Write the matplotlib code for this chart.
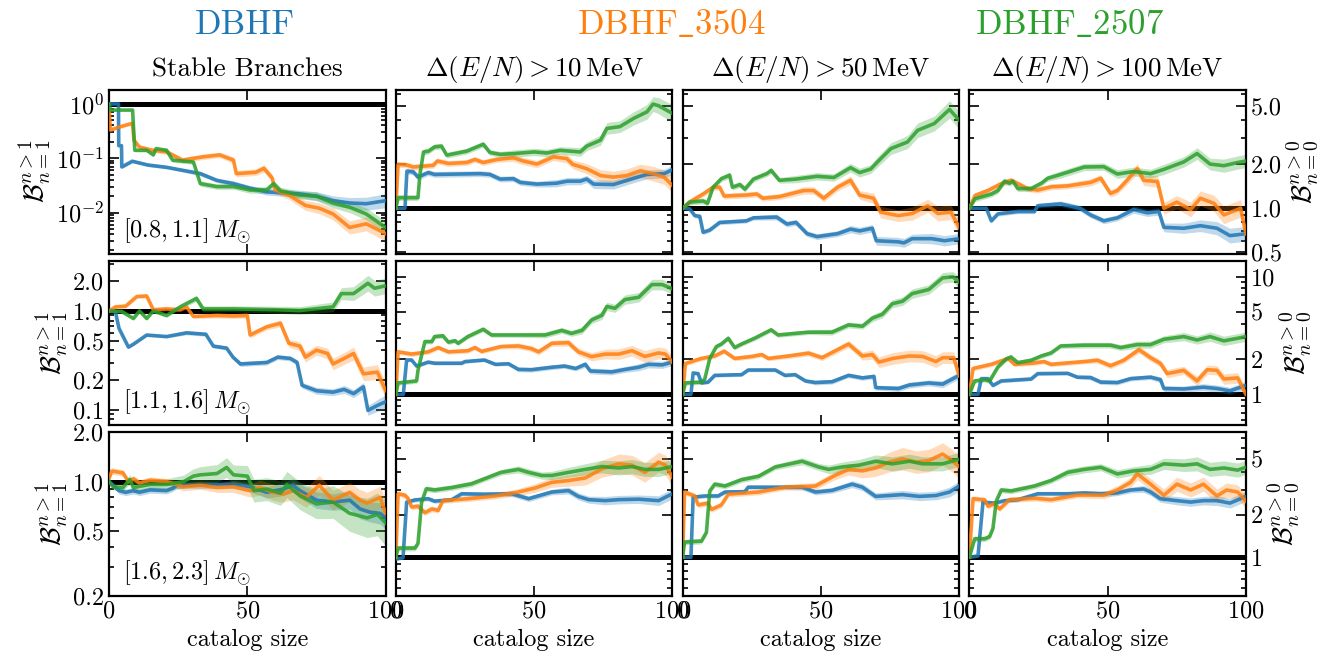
import numpy as np
import matplotlib
matplotlib.use("Agg")
import matplotlib.pyplot as plt
from matplotlib.ticker import FixedLocator, FormatStrFormatter, NullFormatter, LogLocator

plt.rcParams["font.family"] = "serif"
plt.rcParams["font.serif"] = ["cmr10"]
plt.rcParams["mathtext.fontset"] = "cm"
plt.rcParams["axes.formatter.use_mathtext"] = True
plt.rcParams["axes.unicode_minus"] = False

colors = ["#1f77b4", "#ff7f0e", "#2ca02c"]
models = ["DBHF", "DBHF_3504", "DBHF_2507"]
col_titles = ["Stable Branches", r"$\Delta(E/N) > 10\,\mathrm{MeV}$",
              r"$\Delta(E/N) > 50\,\mathrm{MeV}$", r"$\Delta(E/N) > 100\,\mathrm{MeV}$"]
mass_bins = [r"$[0.8, 1.1]\,M_{\odot}$", r"$[1.1, 1.6]\,M_{\odot}$", r"$[1.6, 2.3]\,M_{\odot}$"]

# ---- row 1 : [0.8, 1.1] Msun ----
r1c1_dbhf_x = [0, 3.4, 3.5, 4.5, 4.6, 8.4, 14, 20.8, 25, 33, 39, 45, 51, 57, 63, 69, 75, 81, 87, 93, 100]
r1c1_dbhf_y = [1.0, 1.0, 0.17, 0.17, 0.069, 0.088, 0.075, 0.068, 0.062, 0.052, 0.039, 0.034, 0.028, 0.024, 0.023, 0.022, 0.020, 0.0165, 0.015, 0.0145, 0.0165]
r1c1_dbhf_e = [0.01, 0.01, 0.02, 0.02, 0.03, 0.03, 0.03, 0.03, 0.03, 0.04, 0.04, 0.05, 0.05, 0.06, 0.06, 0.07, 0.08, 0.09, 0.1, 0.12, 0.13]
r1c1_3504_x = [0, 0.5, 4, 8.5, 9, 11, 15.6, 21, 26.5, 34, 40, 45, 46, 53, 56, 59, 60, 65, 71, 76, 81, 87, 93, 100]
r1c1_3504_y = [0.8, 0.33, 0.38, 0.44, 0.215, 0.16, 0.14, 0.13, 0.092, 0.106, 0.115, 0.092, 0.052, 0.055, 0.065, 0.043, 0.026, 0.021, 0.0135, 0.012, 0.0094, 0.0053, 0.0062, 0.0041]
r1c1_3504_e = [0.02, 0.03, 0.03, 0.03, 0.03, 0.04, 0.04, 0.04, 0.05, 0.05, 0.05, 0.06, 0.06, 0.06, 0.07, 0.07, 0.07, 0.08, 0.09, 0.1, 0.11, 0.12, 0.13, 0.14]
r1c1_2507_x = [0, 0.5, 8.5, 9.3, 13.6, 16, 17, 20.8, 23, 30.5, 33, 39, 45, 51, 57, 59.5, 62, 69, 75, 81, 87, 93, 100]
r1c1_2507_y = [1.0, 0.77, 0.77, 0.14, 0.14, 0.115, 0.15, 0.14, 0.092, 0.085, 0.034, 0.03, 0.03, 0.026, 0.026, 0.034, 0.025, 0.021, 0.02, 0.015, 0.0125, 0.0094, 0.0053]
r1c1_2507_e = [0.01, 0.02, 0.02, 0.03, 0.03, 0.03, 0.03, 0.04, 0.04, 0.04, 0.05, 0.05, 0.05, 0.06, 0.06, 0.06, 0.07, 0.07, 0.08, 0.09, 0.1, 0.11, 0.12]

r1c2_dbhf_x = [0, 3.3, 4, 6.3, 8, 11.7, 14, 30.4, 34, 37.7, 42.5, 45, 51, 58, 62, 66.7, 69, 71.5, 78.7, 86, 90.8, 97, 100]
r1c2_dbhf_y = [1.0, 1.0, 1.79, 1.77, 1.63, 1.75, 1.7, 1.72, 1.7, 1.58, 1.59, 1.5, 1.46, 1.48, 1.53, 1.53, 1.58, 1.46, 1.45, 1.6, 1.7, 1.72, 1.83]
r1c2_dbhf_e = [0.01, 0.01, 0.02, 0.02, 0.02, 0.02, 0.02, 0.02, 0.02, 0.02, 0.02, 0.02, 0.02, 0.025, 0.025, 0.025, 0.025, 0.03, 0.03, 0.03, 0.03, 0.03, 0.03]
r1c2_3504_x = [0, 0.8, 4, 6.3, 13.5, 15, 19, 25.6, 28.6, 31.6, 36.5, 42.5, 46, 51, 57, 61.8, 64, 69, 74, 78.7, 83.5, 88.4, 93, 97, 100]
r1c2_3504_y = [1.0, 1.99, 1.97, 1.91, 1.96, 2.1, 2.02, 2.05, 2.15, 2.05, 2.15, 2.21, 2.1, 2.0, 2.24, 2.18, 1.99, 1.86, 1.67, 1.63, 1.67, 1.8, 1.72, 1.63, 1.43]
r1c2_3504_e = [0.01, 0.02, 0.02, 0.02, 0.02, 0.02, 0.02, 0.02, 0.02, 0.02, 0.02, 0.025, 0.025, 0.025, 0.025, 0.03, 0.03, 0.035, 0.04, 0.04, 0.045, 0.045, 0.05, 0.05, 0.05]
r1c2_2507_x = [0, 0.8, 8, 8.7, 10, 11.8, 14, 16.5, 18.4, 25.6, 31.6, 34, 37.7, 43, 50, 54.6, 59.4, 66.7, 69, 74, 76.3, 81, 86, 90.8, 93, 95, 100]
r1c2_2507_y = [1.0, 1.18, 1.18, 1.7, 2.42, 2.45, 2.62, 2.65, 2.3, 2.45, 2.73, 2.4, 2.33, 2.36, 2.42, 2.38, 2.48, 2.42, 2.65, 2.91, 3.5, 3.6, 4.1, 4.54, 5.13, 5.0, 4.43]
r1c2_2507_e = [0.01, 0.02, 0.02, 0.02, 0.02, 0.02, 0.02, 0.02, 0.02, 0.02, 0.02, 0.02, 0.02, 0.025, 0.025, 0.025, 0.025, 0.03, 0.03, 0.035, 0.04, 0.04, 0.045, 0.05, 0.05, 0.055, 0.06]

r1c3_dbhf_x = [0, 2.5, 4.4, 6.2, 7.4, 9.8, 13.4, 23, 25.6, 34, 37.7, 41, 45, 48.6, 56, 60.7, 64, 68.6, 70, 78, 80, 83, 90, 94.7, 100]
r1c3_dbhf_y = [1.0, 0.99, 0.89, 0.88, 0.685, 0.71, 0.8, 0.82, 0.86, 0.87, 0.78, 0.8, 0.67, 0.64, 0.67, 0.72, 0.7, 0.73, 0.6, 0.59, 0.58, 0.62, 0.62, 0.6, 0.62]
r1c3_dbhf_e = [0.01, 0.01, 0.015, 0.015, 0.015, 0.015, 0.015, 0.015, 0.015, 0.02, 0.02, 0.02, 0.02, 0.02, 0.02, 0.025, 0.025, 0.025, 0.03, 0.03, 0.03, 0.03, 0.035, 0.035, 0.035]
r1c3_3504_x = [0, 2.5, 7.4, 11, 13.4, 15, 23, 26.8, 29, 35, 43.8, 47.4, 51, 56, 60.7, 64, 69, 71.6, 78, 83, 88.6, 92.3, 97, 100]
r1c3_3504_y = [1.0, 1.1, 1.25, 1.39, 1.39, 1.21, 1.23, 1.25, 1.17, 1.2, 1.32, 1.32, 1.17, 1.39, 1.55, 1.23, 1.17, 0.94, 0.89, 0.92, 1.04, 0.92, 0.94, 0.74]
r1c3_3504_e = [0.01, 0.02, 0.02, 0.02, 0.02, 0.02, 0.02, 0.02, 0.02, 0.02, 0.025, 0.025, 0.025, 0.025, 0.03, 0.03, 0.035, 0.04, 0.04, 0.045, 0.045, 0.05, 0.05, 0.05]
r1c3_2507_x = [0, 2.5, 7.4, 9, 11, 14, 17, 18, 20.7, 22.5, 25.6, 30.4, 32, 35, 41, 48.6, 54.7, 60.7, 64, 68, 71, 75.3, 81.3, 85, 91, 96.5, 100]
r1c3_2507_y = [1.0, 1.1, 1.12, 1.08, 1.39, 1.59, 1.68, 1.39, 1.45, 1.35, 1.58, 1.72, 1.81, 1.55, 1.58, 1.65, 1.62, 1.89, 1.75, 1.85, 2.12, 2.55, 2.83, 3.4, 3.78, 4.72, 3.98]
r1c3_2507_e = [0.01, 0.02, 0.02, 0.02, 0.02, 0.02, 0.02, 0.02, 0.02, 0.02, 0.02, 0.02, 0.02, 0.02, 0.025, 0.025, 0.025, 0.03, 0.03, 0.03, 0.035, 0.04, 0.045, 0.05, 0.05, 0.06, 0.06]

r1c4_dbhf_x = [0, 6.1, 7.9, 10.3, 17.5, 23.5, 24.7, 33, 40, 43.8, 48.6, 53.5, 59.4, 64.3, 68.5, 70.3, 77.5, 83.5, 89.5, 94.2, 100]
r1c4_dbhf_y = [1.0, 1.0, 0.82, 0.915, 0.95, 0.95, 1.04, 1.07, 1.0, 0.9, 0.82, 0.86, 0.98, 0.93, 0.95, 0.74, 0.73, 0.76, 0.73, 0.65, 0.67]
r1c4_dbhf_e = [0.01, 0.01, 0.015, 0.015, 0.015, 0.015, 0.015, 0.02, 0.02, 0.02, 0.02, 0.02, 0.025, 0.025, 0.025, 0.03, 0.035, 0.04, 0.045, 0.05, 0.05]
r1c4_3504_x = [0, 2, 6.7, 11.5, 15, 17.5, 21, 24.7, 29.5, 35.5, 43.8, 47.5, 51, 53.5, 57, 60.7, 63, 68, 70.3, 75, 80, 83.5, 88.4, 92, 97, 98, 100]
r1c4_3504_y = [1.0, 1.22, 1.32, 1.47, 1.55, 1.47, 1.36, 1.33, 1.4, 1.42, 1.5, 1.6, 1.26, 1.32, 1.55, 1.86, 1.55, 1.52, 1.0, 1.1, 0.98, 1.17, 1.08, 0.9, 0.98, 1.0, 0.67]
r1c4_3504_e = [0.01, 0.02, 0.02, 0.02, 0.02, 0.02, 0.02, 0.02, 0.02, 0.02, 0.025, 0.025, 0.025, 0.025, 0.03, 0.035, 0.035, 0.04, 0.04, 0.045, 0.05, 0.05, 0.055, 0.06, 0.06, 0.06, 0.06]
r1c4_2507_x = [0, 2, 8, 10.3, 12.7, 14.5, 15.7, 17.5, 22.3, 26, 28.3, 33, 41.5, 48.6, 53.5, 59.4, 65.5, 70.3, 77.5, 82.3, 87, 92, 97, 100]
r1c4_2507_y = [1.0, 1.16, 1.25, 1.32, 1.53, 1.48, 1.53, 1.36, 1.36, 1.48, 1.6, 1.7, 1.91, 1.92, 1.71, 1.78, 1.72, 1.84, 2.07, 2.36, 2.0, 1.95, 2.05, 2.1]
r1c4_2507_e = [0.01, 0.02, 0.02, 0.02, 0.02, 0.02, 0.02, 0.02, 0.02, 0.02, 0.02, 0.025, 0.025, 0.025, 0.03, 0.03, 0.03, 0.035, 0.035, 0.04, 0.04, 0.045, 0.045, 0.045]

# ---- row 2 : [1.1, 1.6] Msun ----
r2c1_dbhf_x = [0, 2.3, 3.6, 7, 8.8, 13.6, 20.8, 28, 35, 37.7, 42.5, 44.8, 47.5, 57, 61, 65.5, 68, 69.8, 75, 81, 85, 88.4, 92, 93.6, 97, 100]
r2c1_dbhf_y = [1.0, 0.98, 0.665, 0.43, 0.46, 0.57, 0.55, 0.6, 0.58, 0.44, 0.42, 0.34, 0.29, 0.3, 0.34, 0.33, 0.3, 0.176, 0.155, 0.15, 0.16, 0.145, 0.17, 0.098, 0.11, 0.12]
r2c1_dbhf_e = [0.01, 0.01, 0.015, 0.015, 0.015, 0.015, 0.015, 0.02, 0.02, 0.02, 0.02, 0.02, 0.025, 0.025, 0.025, 0.025, 0.03, 0.03, 0.035, 0.035, 0.04, 0.04, 0.045, 0.05, 0.06, 0.07]
r2c1_3504_x = [0, 2.3, 6, 10, 13.6, 16, 20.8, 25.7, 28, 30.5, 39, 45, 50, 51, 57, 62, 65, 69, 71, 75, 79, 81, 85, 88.4, 92, 97, 100]
r2c1_3504_y = [1.0, 1.1, 1.12, 1.4, 1.42, 1.03, 1.05, 1.03, 1.1, 0.88, 0.9, 0.89, 0.9, 0.57, 0.69, 0.75, 0.47, 0.44, 0.34, 0.4, 0.37, 0.29, 0.33, 0.37, 0.23, 0.24, 0.156]
r2c1_3504_e = [0.01, 0.02, 0.02, 0.02, 0.02, 0.02, 0.02, 0.02, 0.02, 0.02, 0.025, 0.025, 0.025, 0.03, 0.03, 0.035, 0.04, 0.045, 0.05, 0.05, 0.055, 0.06, 0.06, 0.065, 0.07, 0.075, 0.08]
r2c1_2507_x = [0, 4.5, 8.8, 11, 13.6, 16, 20.8, 25.7, 31.6, 34, 45, 60, 69, 81, 84, 88.4, 93.6, 96, 100]
r2c1_2507_y = [1.0, 0.99, 0.84, 1.0, 0.84, 1.0, 0.9, 1.1, 1.34, 1.05, 1.05, 1.03, 1.01, 1.1, 1.5, 1.5, 1.91, 1.7, 1.8]
r2c1_2507_e = [0.01, 0.02, 0.02, 0.02, 0.02, 0.02, 0.02, 0.025, 0.03, 0.03, 0.03, 0.035, 0.04, 0.05, 0.06, 0.07, 0.08, 0.08, 0.08]

r2c2_dbhf_x = [0, 2.7, 3.9, 5.7, 7.5, 11.7, 14, 23.8, 25, 32, 36, 40.7, 44.3, 49, 56.4, 61, 65, 68.5, 70.3, 78, 83, 87.8, 91.4, 96.3, 100]
r2c2_dbhf_y = [1.0, 1.0, 1.96, 1.96, 1.74, 1.88, 1.84, 1.84, 1.9, 1.96, 1.8, 1.82, 1.63, 1.62, 1.7, 1.74, 1.66, 1.8, 1.58, 1.55, 1.63, 1.7, 1.8, 1.78, 1.88]
r2c2_dbhf_e = [0.01, 0.01, 0.015, 0.015, 0.015, 0.015, 0.015, 0.015, 0.015, 0.015, 0.015, 0.015, 0.02, 0.02, 0.02, 0.02, 0.02, 0.025, 0.025, 0.025, 0.025, 0.03, 0.03, 0.03, 0.03]
r2c2_3504_x = [0, 0.8, 5.7, 11.7, 15.3, 19, 26, 28.6, 31, 38, 44.3, 49, 51.6, 56.4, 62.4, 66, 70.8, 75.7, 80.6, 85.4, 90, 95, 97.5, 100]
r2c2_3504_y = [1.0, 2.3, 2.2, 2.3, 2.5, 2.3, 2.35, 2.5, 2.32, 2.55, 2.58, 2.45, 2.3, 2.72, 2.75, 2.3, 2.09, 2.2, 2.2, 2.35, 2.1, 2.25, 2.2, 1.88]
r2c2_3504_e = [0.01, 0.02, 0.02, 0.02, 0.02, 0.02, 0.02, 0.02, 0.02, 0.02, 0.025, 0.025, 0.025, 0.025, 0.03, 0.03, 0.035, 0.04, 0.045, 0.045, 0.05, 0.05, 0.05, 0.05]
r2c2_2507_x = [0, 0.8, 7.5, 8, 10.5, 13, 14, 17, 19, 21.4, 22.5, 26, 31.6, 34.6, 44.3, 54, 60, 63.5, 67.3, 70.8, 74.5, 76.3, 79.2, 82.8, 87.8, 92.6, 96.3, 100]
r2c2_2507_y = [1.0, 1.25, 1.3, 1.6, 2.81, 2.81, 3.1, 3.15, 2.78, 2.86, 2.72, 3.1, 3.58, 3.2, 3.2, 3.2, 3.5, 3.3, 3.5, 4.3, 4.7, 5.6, 5.4, 6.4, 6.7, 8.6, 8.6, 7.9]
r2c2_2507_e = [0.01, 0.02, 0.02, 0.02, 0.02, 0.02, 0.02, 0.02, 0.02, 0.02, 0.02, 0.02, 0.02, 0.02, 0.02, 0.025, 0.025, 0.025, 0.03, 0.03, 0.035, 0.035, 0.035, 0.04, 0.04, 0.045, 0.045, 0.045]

r2c3_dbhf_x = [0, 3, 3.8, 5.6, 6.8, 9.2, 11.6, 21.3, 23.7, 33.5, 37, 40.7, 44.4, 48, 54, 60, 65, 69.2, 69.8, 78, 82, 89, 94, 100]
r2c3_dbhf_y = [1.0, 1.0, 1.52, 1.5, 1.25, 1.27, 1.45, 1.47, 1.61, 1.61, 1.45, 1.47, 1.3, 1.26, 1.28, 1.45, 1.38, 1.42, 1.14, 1.12, 1.2, 1.25, 1.22, 1.45]
r2c3_dbhf_e = [0.01, 0.01, 0.015, 0.015, 0.015, 0.015, 0.015, 0.015, 0.015, 0.015, 0.015, 0.015, 0.015, 0.02, 0.02, 0.02, 0.02, 0.02, 0.02, 0.025, 0.025, 0.025, 0.03, 0.03]
r2c3_3504_x = [0, 1, 6.8, 11.6, 15, 18.8, 25, 28.6, 31, 38.3, 45.5, 50.4, 60, 65, 68.6, 71, 76, 82, 86.8, 91.6, 94, 98, 100]
r2c3_3504_y = [1.0, 1.83, 2.02, 2.12, 2.33, 2.02, 2.1, 2.18, 2.02, 2.12, 2.24, 2.05, 2.68, 2.12, 2.18, 1.88, 2.02, 2.12, 2.1, 1.9, 2.05, 2.05, 1.44]
r2c3_3504_e = [0.01, 0.02, 0.02, 0.02, 0.02, 0.02, 0.02, 0.02, 0.02, 0.02, 0.025, 0.025, 0.03, 0.035, 0.04, 0.045, 0.05, 0.05, 0.05, 0.05, 0.05, 0.05, 0.05]
r2c3_2507_x = [0, 1, 6.8, 8, 9.8, 12.2, 14, 16.5, 18.8, 21.3, 26, 32, 34.5, 45.5, 54, 60, 65, 68.6, 72.2, 75.8, 79.5, 83, 89, 94, 97.7, 100]
r2c3_2507_y = [1.0, 1.25, 1.27, 1.35, 2.02, 2.55, 2.68, 3.0, 2.5, 2.68, 3.0, 3.54, 3.2, 3.38, 3.38, 3.9, 3.8, 4.45, 4.8, 5.9, 6.2, 7.2, 7.8, 9.8, 10.0, 9.0]
r2c3_2507_e = [0.01, 0.02, 0.02, 0.02, 0.02, 0.02, 0.02, 0.02, 0.02, 0.02, 0.02, 0.02, 0.02, 0.02, 0.025, 0.025, 0.025, 0.03, 0.03, 0.035, 0.035, 0.04, 0.04, 0.045, 0.045, 0.045]

r2c4_dbhf_x = [0, 3.1, 4.3, 6.7, 8.5, 11.5, 22.3, 24.7, 35.5, 39, 43.8, 47.5, 53.5, 58.3, 65.5, 69.1, 70.3, 77.5, 84.6, 89.5, 94.2, 100]
r2c4_dbhf_y = [1.0, 1.0, 1.36, 1.36, 1.19, 1.3, 1.35, 1.5, 1.51, 1.4, 1.39, 1.27, 1.26, 1.36, 1.4, 1.33, 1.12, 1.11, 1.15, 1.12, 1.07, 1.19]
r2c4_dbhf_e = [0.01, 0.01, 0.015, 0.015, 0.015, 0.015, 0.015, 0.015, 0.015, 0.015, 0.02, 0.02, 0.02, 0.02, 0.02, 0.025, 0.025, 0.025, 0.03, 0.03, 0.03, 0.035]
r2c4_3504_x = [0, 1.3, 7.9, 14, 16.3, 23.5, 27, 29.5, 35.5, 41.5, 46.3, 51, 55.8, 61.3, 65.5, 69.1, 71.5, 77.5, 82.3, 86, 89.5, 92, 97, 100]
r2c4_3504_y = [1.0, 1.66, 1.8, 2.02, 1.8, 1.85, 1.9, 1.8, 1.85, 1.9, 1.95, 1.75, 1.95, 2.4, 2.05, 1.83, 1.5, 1.6, 1.3, 1.62, 1.6, 1.35, 1.38, 1.0]
r2c4_3504_e = [0.01, 0.02, 0.02, 0.02, 0.02, 0.02, 0.02, 0.02, 0.02, 0.02, 0.025, 0.025, 0.025, 0.03, 0.03, 0.03, 0.035, 0.035, 0.04, 0.04, 0.04, 0.045, 0.045, 0.045]
r2c4_2507_x = [0, 1.9, 5.5, 7.3, 10.3, 13.3, 15, 17.5, 22.3, 26, 29.5, 33, 41.5, 51, 54.7, 60.7, 65.5, 70.3, 77.5, 82.3, 87, 92, 97, 100]
r2c4_2507_y = [1.0, 1.3, 1.33, 1.3, 1.71, 2.0, 2.08, 1.86, 1.95, 2.12, 2.25, 2.58, 2.62, 2.62, 2.5, 2.65, 2.65, 2.94, 3.1, 2.9, 3.1, 2.85, 3.0, 3.1]
r2c4_2507_e = [0.01, 0.02, 0.02, 0.02, 0.02, 0.02, 0.02, 0.02, 0.02, 0.02, 0.02, 0.02, 0.025, 0.025, 0.025, 0.03, 0.03, 0.03, 0.035, 0.035, 0.04, 0.04, 0.04, 0.04]

# ---- row 3 : [1.6, 2.3] Msun ----
r3c1_dbhf_x = [0, 3.6, 6, 8.8, 11, 14.8, 20.8, 23, 24.5, 33, 45, 51, 57, 63, 66.5, 69, 75, 81, 87, 90.8, 94.4, 98, 100]
r3c1_dbhf_y = [1.0, 0.88, 0.86, 0.88, 0.86, 0.89, 0.88, 0.91, 0.95, 0.95, 0.96, 0.93, 0.86, 0.9, 0.95, 0.88, 0.77, 0.75, 0.77, 0.68, 0.65, 0.64, 0.6]
r3c1_dbhf_e = [0.01, 0.02, 0.02, 0.02, 0.02, 0.02, 0.02, 0.02, 0.02, 0.02, 0.025, 0.03, 0.035, 0.04, 0.04, 0.045, 0.05, 0.05, 0.055, 0.06, 0.06, 0.065, 0.07]
r3c1_3504_x = [0, 1, 5, 7, 8.8, 11, 14.8, 20.8, 26.9, 33, 39, 45, 51, 54.6, 59.4, 63, 66.5, 71.3, 76, 81, 87, 90.8, 93.3, 98, 100]
r3c1_3504_y = [1.05, 1.16, 1.13, 1.0, 1.04, 0.98, 1.02, 1.0, 0.93, 0.95, 0.92, 0.93, 0.88, 0.92, 0.86, 0.84, 0.88, 0.8, 0.95, 0.77, 0.86, 0.77, 0.74, 0.8, 0.64]
r3c1_3504_e = [0.01, 0.02, 0.02, 0.02, 0.02, 0.02, 0.02, 0.02, 0.025, 0.025, 0.03, 0.035, 0.04, 0.045, 0.05, 0.05, 0.055, 0.06, 0.06, 0.06, 0.06, 0.065, 0.065, 0.07, 0.07]
r3c1_2507_x = [0, 1.5, 5, 7.5, 8.8, 14.8, 20.8, 27, 30.5, 33, 39, 42.5, 45, 50, 52.4, 57, 62, 64.3, 69, 75, 81, 87, 93.3, 97, 100]
r3c1_2507_y = [1.0, 0.93, 0.92, 1.03, 0.92, 0.96, 0.96, 1.0, 1.08, 1.1, 1.12, 1.22, 1.1, 1.08, 0.88, 0.9, 0.85, 0.96, 0.82, 0.73, 0.75, 0.64, 0.6, 0.63, 0.56]
r3c1_2507_e = [0.01, 0.02, 0.02, 0.03, 0.03, 0.03, 0.035, 0.04, 0.045, 0.05, 0.055, 0.06, 0.06, 0.065, 0.07, 0.07, 0.075, 0.08, 0.085, 0.09, 0.1, 0.11, 0.12, 0.13, 0.14]

r3c2_dbhf_x = [0, 2.6, 3.9, 6.9, 11.7, 14, 20.2, 23.8, 32, 41.9, 48, 56.4, 62.4, 66, 69.7, 75.7, 80.5, 87.8, 95, 100]
r3c2_dbhf_y = [0.97, 0.99, 2.46, 2.55, 2.6, 2.5, 2.56, 2.82, 2.8, 2.82, 2.6, 2.9, 2.97, 2.7, 2.56, 2.52, 2.56, 2.58, 2.52, 2.82]
r3c2_dbhf_e = [0.01, 0.01, 0.015, 0.015, 0.015, 0.015, 0.015, 0.015, 0.015, 0.02, 0.02, 0.02, 0.025, 0.025, 0.025, 0.03, 0.03, 0.03, 0.035, 0.035]
r3c2_3504_x = [0, 0.8, 3.3, 4.5, 5.7, 8, 10.5, 13, 15.3, 17, 26, 36, 44.3, 50.4, 56.4, 62.4, 68.5, 74.5, 80.6, 85.4, 90, 95, 97.5, 100]
r3c2_3504_y = [1.0, 2.82, 2.75, 2.6, 2.27, 2.3, 2.07, 2.2, 2.15, 2.52, 2.6, 2.72, 2.9, 3.1, 3.4, 3.5, 3.65, 4.24, 4.6, 4.5, 4.0, 4.73, 4.5, 3.7]
r3c2_3504_e = [0.01, 0.02, 0.02, 0.02, 0.02, 0.02, 0.02, 0.02, 0.02, 0.02, 0.02, 0.02, 0.025, 0.03, 0.035, 0.04, 0.05, 0.06, 0.07, 0.07, 0.07, 0.07, 0.07, 0.07]
r3c2_2507_x = [0, 0.8, 6.9, 8, 9.3, 11, 14, 20.2, 27.4, 32, 38, 44.3, 48, 52.8, 56.4, 62.4, 68.5, 74.5, 80.6, 85.4, 90, 95, 100]
r3c2_2507_y = [1.0, 1.16, 1.16, 1.25, 2.45, 3.06, 3.0, 3.12, 3.32, 3.6, 4.0, 4.2, 4.0, 3.8, 3.8, 4.0, 4.2, 4.4, 4.3, 4.4, 4.2, 4.2, 4.4]
r3c2_2507_e = [0.01, 0.02, 0.02, 0.02, 0.02, 0.02, 0.02, 0.02, 0.02, 0.02, 0.02, 0.025, 0.025, 0.025, 0.03, 0.035, 0.04, 0.045, 0.05, 0.05, 0.05, 0.05, 0.05]

r3c3_dbhf_x = [0, 3, 3.8, 8, 12.8, 15.3, 22.5, 23.7, 33.5, 43.2, 48, 54, 61.3, 65, 69.8, 79.5, 85.6, 91.6, 96.5, 100]
r3c3_dbhf_y = [1.0, 1.0, 2.67, 2.72, 2.72, 2.9, 2.92, 3.14, 3.14, 3.14, 2.9, 2.98, 3.3, 3.14, 2.7, 2.78, 2.7, 2.74, 2.9, 3.2]
r3c3_dbhf_e = [0.01, 0.01, 0.015, 0.015, 0.015, 0.015, 0.015, 0.015, 0.015, 0.02, 0.02, 0.02, 0.025, 0.025, 0.025, 0.03, 0.03, 0.03, 0.035, 0.035]
r3c3_3504_x = [0, 0.7, 4.4, 5.6, 9.2, 10.4, 14, 16.5, 27.4, 37, 48, 55, 60, 65, 69.8, 74.6, 79.5, 84.4, 89, 94, 96.5, 100]
r3c3_3504_y = [1.0, 2.9, 2.72, 2.35, 2.42, 2.18, 2.35, 2.8, 2.9, 3.14, 3.2, 3.8, 4.2, 4.1, 4.3, 4.73, 5.0, 4.73, 4.85, 5.4, 5.0, 4.4]
r3c3_3504_e = [0.01, 0.02, 0.02, 0.02, 0.02, 0.02, 0.02, 0.02, 0.02, 0.02, 0.025, 0.03, 0.04, 0.05, 0.06, 0.07, 0.08, 0.08, 0.08, 0.08, 0.08, 0.08]
r3c3_2507_x = [0, 0.7, 6.8, 8.6, 9.8, 11.6, 15.3, 21.3, 27.4, 33.5, 43.2, 49.2, 52.8, 57.6, 63.7, 69.8, 75.8, 82, 86.8, 94, 100]
r3c3_2507_y = [1.0, 1.28, 1.3, 1.5, 2.95, 3.3, 3.2, 3.55, 3.75, 4.37, 4.8, 4.37, 4.2, 4.37, 4.5, 4.8, 4.6, 4.8, 4.6, 4.6, 4.95]
r3c3_2507_e = [0.01, 0.02, 0.02, 0.02, 0.02, 0.02, 0.02, 0.02, 0.02, 0.02, 0.025, 0.025, 0.03, 0.035, 0.04, 0.045, 0.05, 0.05, 0.05, 0.05, 0.05]

r3c4_dbhf_x = [0, 3.1, 4.9, 9.1, 12.7, 17.5, 24.7, 35.5, 41.5, 47.5, 53.5, 58.3, 63, 65.5, 69, 75, 80, 84.6, 89.5, 94.2, 100]
r3c4_dbhf_y = [1.0, 1.02, 2.46, 2.42, 2.52, 2.56, 2.82, 2.82, 2.86, 2.82, 2.86, 3.0, 3.05, 2.9, 2.6, 2.52, 2.46, 2.52, 2.52, 2.42, 2.7]
r3c4_dbhf_e = [0.01, 0.01, 0.015, 0.015, 0.015, 0.015, 0.015, 0.015, 0.015, 0.02, 0.02, 0.02, 0.025, 0.025, 0.025, 0.03, 0.03, 0.03, 0.035, 0.035, 0.035]
r3c4_3504_x = [0, 1.3, 5.5, 6.7, 9.1, 10.9, 14.5, 23.5, 29.5, 39, 48.6, 53.5, 58.3, 60.7, 65.5, 70.3, 75, 80, 84.6, 89.5, 93, 97, 100]
r3c4_3504_y = [1.0, 2.6, 2.55, 2.3, 2.4, 2.2, 2.56, 2.62, 2.56, 2.76, 2.76, 3.0, 3.4, 3.9, 3.3, 2.75, 3.3, 3.0, 3.3, 2.72, 3.0, 2.9, 2.5]
r3c4_3504_e = [0.01, 0.02, 0.02, 0.02, 0.02, 0.02, 0.02, 0.02, 0.02, 0.02, 0.025, 0.03, 0.035, 0.04, 0.04, 0.045, 0.05, 0.05, 0.05, 0.05, 0.05, 0.05, 0.05]
r3c4_2507_x = [0, 1.9, 5.5, 7.3, 8.5, 9.7, 11.5, 15, 23.5, 29.5, 35.5, 41.5, 47.5, 53.5, 59.4, 65.5, 70.3, 77.5, 82.3, 87, 92, 97, 100]
r3c4_2507_y = [1.0, 1.35, 1.35, 1.4, 1.6, 2.5, 3.0, 2.95, 3.2, 3.5, 4.0, 4.2, 4.35, 3.9, 4.1, 4.2, 4.6, 4.5, 4.6, 4.2, 4.3, 4.15, 4.35]
r3c4_2507_e = [0.01, 0.02, 0.02, 0.02, 0.02, 0.02, 0.02, 0.02, 0.02, 0.02, 0.025, 0.025, 0.025, 0.03, 0.03, 0.035, 0.04, 0.045, 0.05, 0.05, 0.05, 0.05, 0.05]

# axis limits
ylim_left = [(1.75e-3, 1.8), (0.07, 3.2), (0.2, 2.0)]
ylim_right = [(0.49, 6.4), (0.55, 13.6), (0.53, 7.7)]
yticks_left = [None, [0.1, 0.2, 0.5, 1.0, 2.0], [0.2, 0.5, 1.0, 2.0]]
yticks_right = [[0.5, 1.0, 2.0, 5.0], [1, 2, 5, 10], [1, 2, 5]]
yfmt_left = [None, "%.1f", "%.1f"]
yfmt_right = ["%.1f", "%d", "%d"]

g = globals()
panels = {}
for r in range(3):
    for c in range(4):
        panels[(r, c)] = [(g[f"r{r+1}c{c+1}_{m}_x"], g[f"r{r+1}c{c+1}_{m}_y"], g[f"r{r+1}c{c+1}_{m}_e"])
                          for m in ["dbhf", "3504", "2507"]]

fig, axes = plt.subplots(3, 4, figsize=(13.22, 6.56), dpi=100)
plt.subplots_adjust(left=0.0825, right=0.9425, bottom=0.0915, top=0.8628, wspace=0.037, hspace=0.046)

for r in range(3):
    for c in range(4):
        ax = axes[r, c]
        ax.axhline(1.0, color="k", lw=3.6, zorder=1)
        for (x, y, e), col in zip(panels[(r, c)], colors):
            x = np.array(x); y = np.array(y); e = np.array(e)
            ax.fill_between(x, y * 10 ** (-e), y * 10 ** e, color=col, alpha=0.28, lw=0, zorder=2)
            ax.plot(x, y, color=col, lw=2.6, alpha=0.85, zorder=3)
        ax.set_yscale("log")
        ax.set_xlim(0, 100)
        ax.set_xticks([0, 50, 100])
        if c == 0:
            ax.set_ylim(*ylim_left[r])
            if yticks_left[r] is not None:
                ax.yaxis.set_major_locator(FixedLocator(yticks_left[r]))
                ax.yaxis.set_major_formatter(FormatStrFormatter(yfmt_left[r]))
            ax.yaxis.set_minor_locator(LogLocator(base=10, subs=np.arange(2, 10), numticks=20))
            ax.yaxis.set_minor_formatter(NullFormatter())
            ax.set_ylabel(r"$\mathcal{B}^{n>1}_{n=1}$", fontsize=20, labelpad=2)
            ax.text(0.05, 0.1, mass_bins[r], transform=ax.transAxes, fontsize=17.5)
        else:
            ax.set_ylim(*ylim_right[r])
            ax.yaxis.set_major_locator(FixedLocator(yticks_right[r]))
            ax.yaxis.set_major_formatter(FormatStrFormatter(yfmt_right[r]))
            ax.yaxis.set_minor_locator(LogLocator(base=10, subs=np.arange(2, 10), numticks=20))
            ax.yaxis.set_minor_formatter(NullFormatter())
        ax.tick_params(which="both", direction="in", top=True, right=True, labelsize=17.5, width=1.2)
        ax.tick_params(which="major", length=7)
        ax.tick_params(which="minor", length=3.5)
        if c in (1, 2):
            ax.tick_params(labelleft=False)
        if c == 3:
            ax.tick_params(labelleft=False, labelright=True)
            ax.yaxis.set_label_position("right")
            ax.set_ylabel(r"$\mathcal{B}^{n>0}_{n=0}$", fontsize=20, labelpad=2)
        if r < 2:
            ax.tick_params(labelbottom=False)
        else:
            ax.set_xlabel("catalog size", fontsize=17.5, labelpad=4)
        if r == 0:
            ax.set_title(col_titles[c], fontsize=19.5, pad=10)
        for s in ax.spines.values():
            s.set_linewidth(1.6)

for name, col, xp in zip(models, colors, [0.185, 0.508, 0.809]):
    fig.text(xp, 0.962, name.replace("_", r"$\_$"), color=col, fontsize=25, ha="center", va="center")

fig.savefig("out.png", dpi=100)
